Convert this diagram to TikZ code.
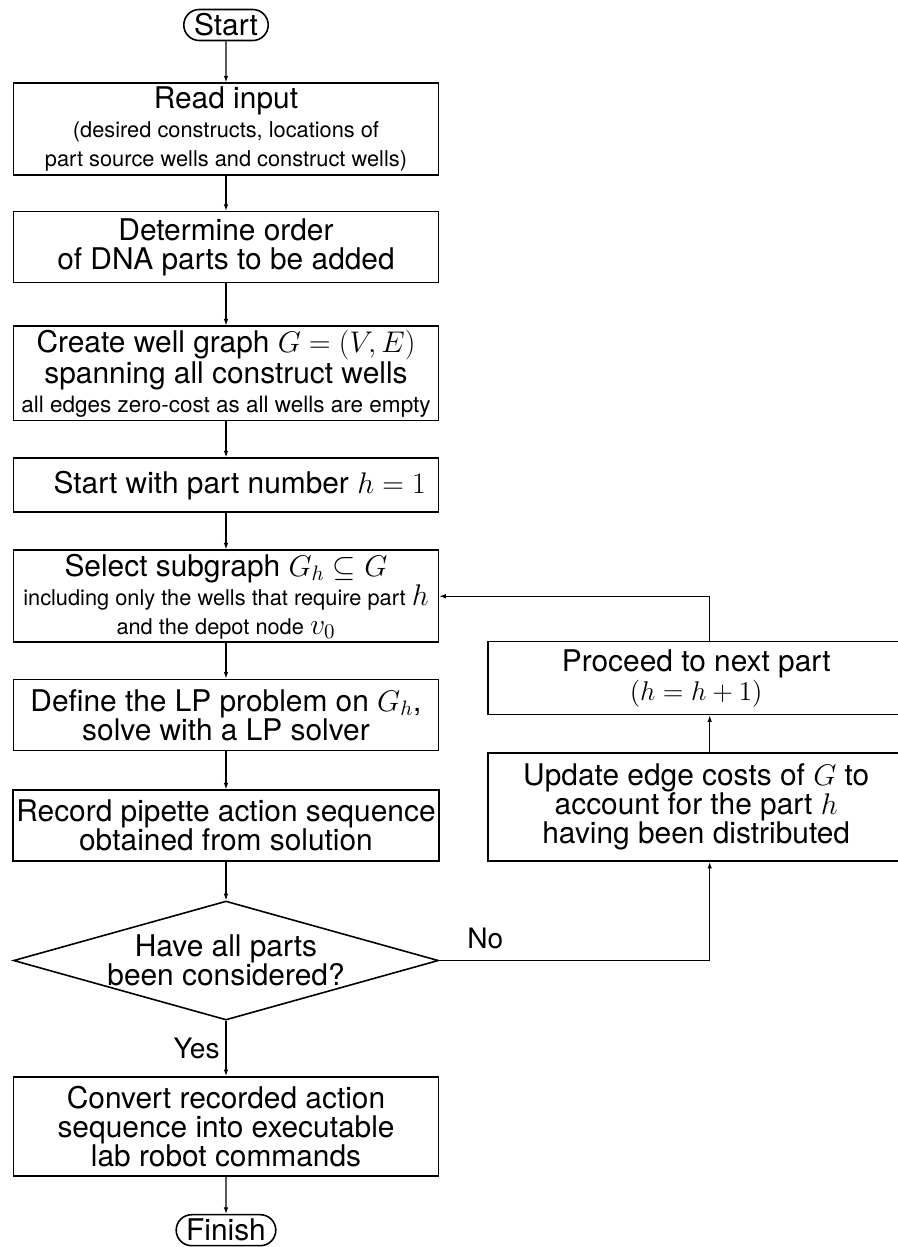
\documentclass[tikz,border=0pt]{standalone}
\usepackage{fix-cm}
\usepackage{fontspec}
\setmainfont{TeX Gyre Heros}
\usepackage{tikz}
\usetikzlibrary{arrows.meta, positioning, shapes.geometric, shapes.misc}

\newcommand{\bigsz}{\fontsize{17}{16.5}\selectfont}
\newcommand{\smallsz}{\fontsize{12.4}{14.5}\selectfont}
\newcommand{\tinysz}{\fontsize{12.8}{13.6}\selectfont}
\newcommand{\bigmath}[1]{{\bigsz$#1$}}

\begin{document}
\begin{tikzpicture}[
  box/.style={draw, line width=0.9pt, align=center, minimum width=8.5cm, inner sep=2pt, font=\bigsz},
  term/.style={draw, line width=0.9pt, rounded rectangle, minimum height=0.62cm, inner xsep=3pt, inner ysep=1pt, font=\bigsz},
  decision/.style={draw, line width=0.9pt, diamond, aspect=3.6, inner sep=0pt, minimum width=8.5cm, minimum height=2.38cm, align=center, font=\bigsz},
  arrow/.style={-{Latex[length=1.3mm,width=0.9mm]}, line width=0.6pt},
  lbl/.style={font=\fontsize{16}{16}\selectfont},
  node distance=0.8cm
]
\useasboundingbox (0,0) rectangle (17.96,-24.94);
\node[term] (start) at (4.52,-0.5) {Start};
\node[box, minimum height=1.84cm, below=0.82cm of start] (read) {Read input\\\smallsz (desired constructs, locations of\\\smallsz part source wells and construct wells)};
\node[box, minimum height=1.42cm, below=0.7cm of read] (order) {Determine order\\of DNA parts to be added};
\node[box, minimum height=1.82cm, below=0.84cm of order] (graph) {Create well graph $G=(V,E)$\\spanning all construct wells\\\tinysz all edges zero-cost as all wells are empty};
\node[box, minimum height=1.08cm, below=0.72cm of graph] (init) {\hspace*{0.55cm}Start with part number $h=1$};
\node[box, minimum height=1.8cm, below=0.73cm of init] (select) {Select subgraph $G_h\subseteq G$\\\smallsz including only the wells that require part \bigmath{h}\\\smallsz and the depot node \bigmath{v_0}};
\node[box, minimum height=1.42cm, below=0.71cm of select] (solve) {Define the LP problem on $G_h$,\\solve with a LP solver};
\node[box, minimum height=1.42cm, below=0.765cm of solve] (record) {Record pipette action sequence\\obtained from solution};
\node[decision, below=0.765cm of record] (decide) {Have all parts\\been considered?};
\node[box, minimum height=1.98cm, below=1.105cm of decide] (convert) {Convert recorded action\\sequence into executable\\lab robot commands};
\node[term, below=0.745cm of convert] (finish) {Finish};
\node[box, minimum width=8.34cm, minimum height=2.16cm, anchor=south west] (update) at ([xshift=0.94cm]record.south east) {Update edge costs of $G$ to\\account for the part $h$\\having been distributed};
\node[box, minimum width=8.34cm, minimum height=1.46cm, above=0.74cm of update] (proceed) {Proceed to next part\\{\fontsize{15.4}{16.5}\selectfont$(h=h+1)$}};
\coordinate (loop) at ([xshift=0.27cm]update.south);
\draw[arrow] (start) -- (read);
\draw[arrow] (read) -- (order);
\draw[arrow] (order) -- (graph);
\draw[arrow] (graph) -- (init);
\draw[arrow] (init) -- (select);
\draw[arrow] (select) -- (solve);
\draw[arrow] (solve) -- (record);
\draw[arrow] (record) -- (decide);
\draw[arrow] (decide) -- node[lbl, left, pos=0.5] {Yes} (convert);
\draw[arrow] (convert) -- (finish);
\draw[arrow] (decide.east) -| node[lbl, above=3pt, pos=0.085] {No} (loop);
\draw[arrow] (loop |- update.north) -- (loop |- proceed.south);
\draw[arrow] (loop |- proceed.north) |- (select.east);
\end{tikzpicture}
\end{document}
